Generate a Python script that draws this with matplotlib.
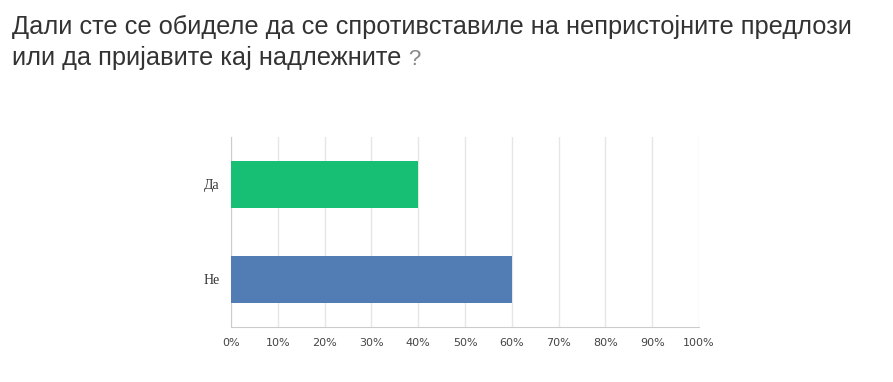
import matplotlib
matplotlib.use("Agg")
import matplotlib.pyplot as plt
import numpy as np

categories = ["Не", "Да"]
values = [60, 40]
colors = ["#517cb4", "#16bf73"]
xticks = list(range(0, 101, 10))

fig = plt.figure(figsize=(8.93, 3.82), dpi=100)
ax = fig.add_axes([231 / 893, 1 - 327 / 382, 468 / 893, 190 / 382])

ypos = np.arange(len(categories))
ax.barh(ypos, values, height=0.5, color=colors, zorder=3)
ax.set_xlim(0, 100)
ax.set_ylim(-0.5, 1.5)
ax.set_yticks(ypos)
ax.set_yticklabels(categories, family="Liberation Serif", fontsize=10, color="#333333")
ax.set_xticks(xticks)
ax.set_xticklabels([f"{t}%" for t in xticks], fontsize=8, color="#444444")
ax.tick_params(axis="x", length=0, pad=8)
ax.tick_params(axis="y", length=0, pad=8)
ax.grid(axis="x", color="#e6e6e6", linewidth=1, zorder=0)
for s in ["top", "right"]:
    ax.spines[s].set_visible(False)
ax.spines["left"].set_color("#cccccc")
ax.spines["bottom"].set_color("#cccccc")

fig.text(12 / 893, 1 - 34 / 382, "Дали сте се обиделе да се спротивставиле на непристојните предлози",
         fontsize=18.3, family="Liberation Sans", color="#333333")
t2 = fig.text(12 / 893, 1 - 65 / 382, "или да пријавите кај надлежните ",
              fontsize=18.3, family="Liberation Sans", color="#333333")
fig.canvas.draw()
bb = t2.get_window_extent()
fig.text(bb.x1 / 893, 1 - 65 / 382, "?", fontsize=16, family="Liberation Sans", color="#888888")

fig.savefig("out.png", dpi=100)
